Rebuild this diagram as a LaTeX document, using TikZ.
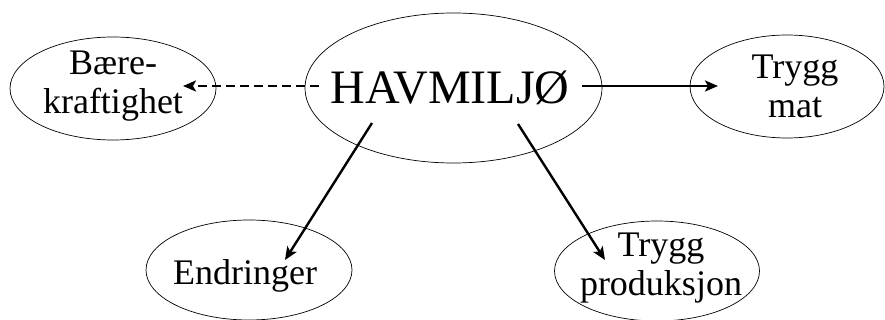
\documentclass[tikz,border=0pt]{standalone}
\usepackage{fontspec}
\setmainfont{Liberation Serif}
\usetikzlibrary{arrows.meta,shapes.geometric}
\begin{document}
\begin{tikzpicture}[x=1pt,y=-1pt,
  oval/.style={draw, ellipse, line width=0.7pt, inner sep=0pt},
  txt/.style={align=center, inner sep=0pt, font=\fontsize{36}{39}\selectfont},
  conn/.style={line width=2.4pt, -{Stealth[length=13pt,width=11pt,inset=3pt]}},
  dashconn/.style={conn, dash pattern=on 9pt off 5pt}]
\useasboundingbox (0,0) rectangle (885,320);
\node[oval, minimum width=297pt, minimum height=150pt] (hav) at (453.5,88) {};
\node[txt, font=\fontsize{48}{52}\selectfont] (havt) at (450,88) {HAVMILJØ};
\node[oval, minimum width=206pt, minimum height=103pt] (baere) at (113,88.5) {};
\node[txt] (baeret) at (113,86) {Bære-\\kraftighet};
\node[oval, minimum width=194pt, minimum height=103pt] (mat) at (787,86.5) {};
\node[txt] (matt) at (795,86) {Trygg\\mat};
\node[oval, minimum width=206pt, minimum height=100pt] (endr) at (249,270) {};
\node[txt] (endrt) at (245,276) {Endringer};
\node[oval, minimum width=205pt, minimum height=100pt] (prod) at (657,271) {};
\node[txt] (prodt) at (661,268) {Trygg\\produksjon};
\coordinate (dl) at (319,86);
\coordinate (dlt) at (183,86);
\coordinate (sr) at (582,86);
\coordinate (srt) at (718,86);
\coordinate (el) at (372,123);
\coordinate (elt) at (285,260);
\coordinate (er) at (518,124);
\coordinate (ert) at (605,260);
\draw[dashconn] (dl) -- (dlt);
\draw[conn] (sr) -- (srt);
\draw[conn] (el) -- (elt);
\draw[conn] (er) -- (ert);
\end{tikzpicture}
\end{document}
